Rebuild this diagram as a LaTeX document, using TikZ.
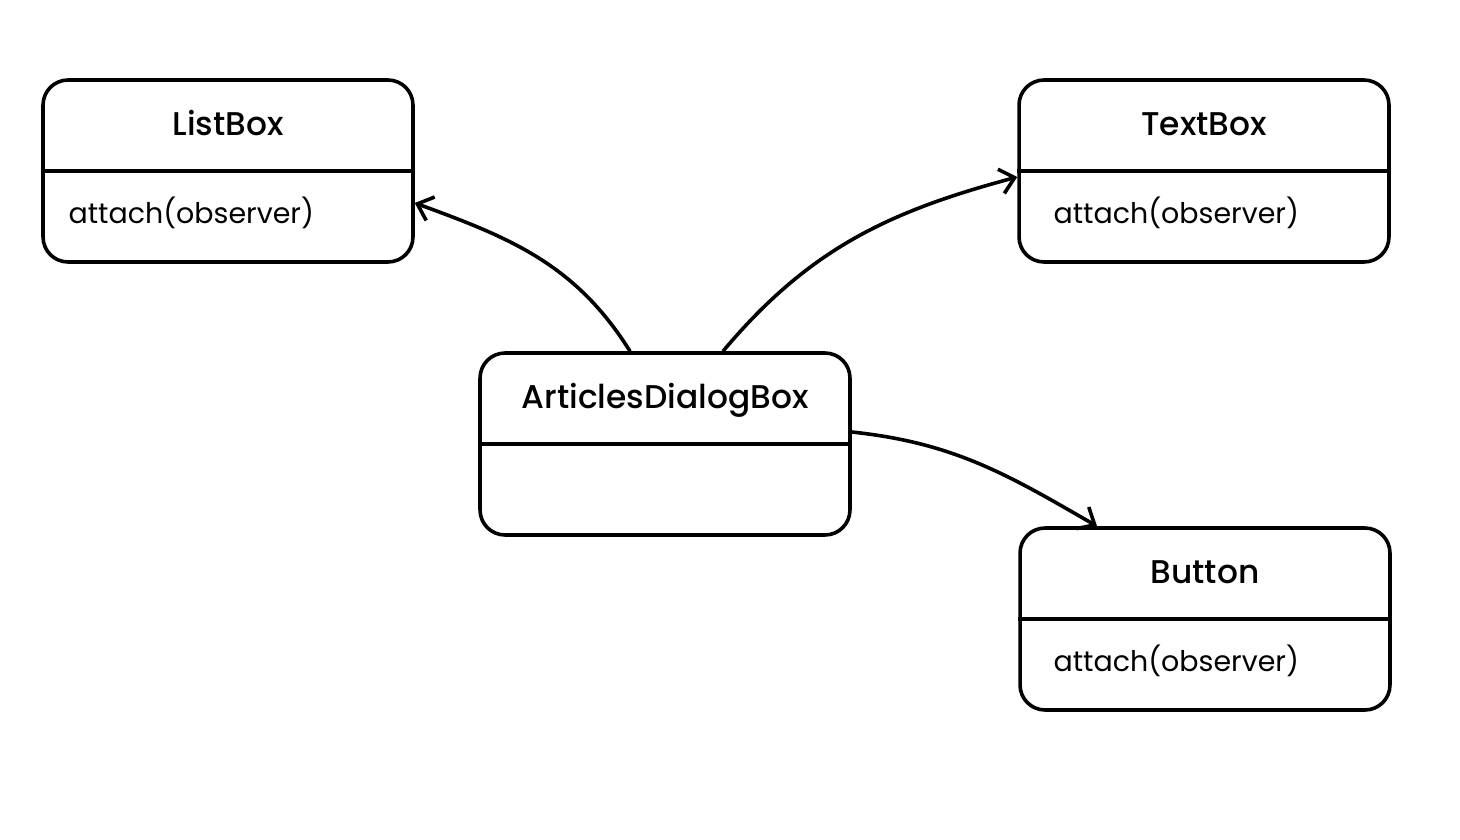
\documentclass[tikz,border=0pt]{standalone}
\usepackage{fontspec}
\setmainfont{Poppins}
\newfontfamily\namefont{Poppins}[UprightFont={* Medium}]
\usetikzlibrary{arrows.meta,calc}
\tikzset{
  classbox/.style={draw, line width=0.072cm, rounded corners=0.5cm,
    minimum width=7.4cm, minimum height=3.64cm, inner sep=0pt},
  classname/.style={anchor=base, font=\namefont\fontsize{18.7}{22}\selectfont, inner sep=0pt},
  classop/.style={anchor=base west, font=\fontsize{16.2}{19}\selectfont, inner sep=0pt},
  link/.style={line width=0.072cm, -{Straight Barb[length=0.28cm,width=0.5cm,line width=0.072cm]}}
}
\begin{document}
\begin{tikzpicture}[x=0.02cm, y=-0.02cm]
\useasboundingbox (0,0) rectangle (1460,839);
% class boxes: name / centre / title / operation / indent
\foreach \n/\x/\y/\t/\o/\d in {listbox/228/171/ListBox/attach(observer)/27,
                               textbox/1204/171/TextBox/attach(observer)/36,
                               dialog/665/444/ArticlesDialogBox//27,
                               button/1205/619/Button/attach(observer)/35}{
  \node[classbox] (\n) at (\x,\y) {};
  \draw[line width=0.072cm] (\n.west) -- (\n.east);
  \node[classname] (\n-name) at ($(\n.north)+(0,57)$) {\t};
  \node[classop] (\n-op) at ($(\n.north west)+(\d,145)$) {\o};
}
\coordinate (dl) at ($(dialog.north)+(-35,0)$);
\coordinate (dr) at ($(dialog.north)+(58,0)$);
\coordinate (lb) at ($(listbox.east)+(0,32)$);
\coordinate (tb) at ($(textbox.west)+(0,6)$);
\coordinate (de) at ($(dialog.east)+(0,-12)$);
\coordinate (bt) at ($(button.north)+(-108,0)$);
\draw[link] (dl) to[out=122, in=-20] (lb);
\draw[link] (dr) to[out=50, in=195] (tb);
\draw[link] (de) to[out=-6, in=150] (bt);
\end{tikzpicture}
\end{document}
